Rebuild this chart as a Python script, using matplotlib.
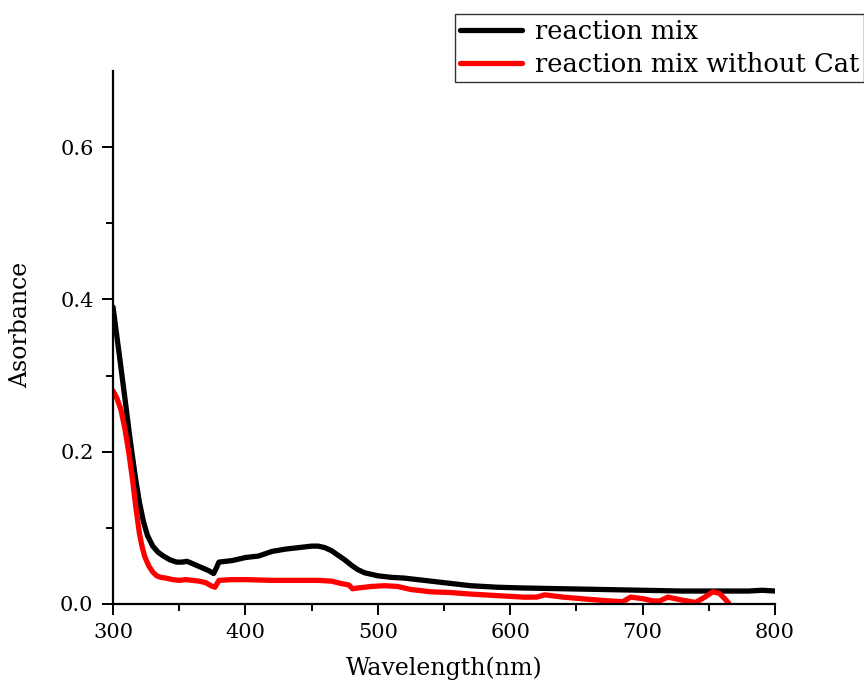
import numpy as np
import matplotlib.pyplot as plt
from matplotlib.ticker import FixedLocator

# UV-vis spectra
wl_mix = [300, 305, 309, 313, 317, 320, 323, 326, 330, 334, 338, 343, 348, 352, 356, 360,
          364, 368, 372, 376, 378, 380, 385, 390, 400, 410, 420, 430, 440, 450, 455, 460,
          465, 470, 475, 480, 485, 490, 500, 510, 520, 530, 540, 555, 570, 590, 610, 640,
          670, 700, 730, 760, 780, 790, 800]
abs_mix = [0.390, 0.324, 0.270, 0.215, 0.165, 0.133, 0.108, 0.090, 0.076, 0.068, 0.063, 0.058,
           0.055, 0.055, 0.056, 0.053, 0.050, 0.047, 0.044, 0.040, 0.047, 0.055, 0.056, 0.057,
           0.061, 0.063, 0.069, 0.072, 0.074, 0.076, 0.076, 0.074, 0.070, 0.064, 0.058, 0.051,
           0.045, 0.041, 0.037, 0.035, 0.034, 0.032, 0.030, 0.027, 0.024, 0.022, 0.021, 0.020,
           0.019, 0.018, 0.017, 0.017, 0.017, 0.018, 0.017]

wl_nocat = [300, 303, 306, 309, 312, 315, 317, 320, 322, 324, 327, 330, 333, 336, 340, 345,
            350, 355, 360, 365, 370, 374, 377, 380, 390, 400, 420, 440, 455, 465, 472, 478,
            481, 485, 495, 505, 515, 525, 540, 555, 570, 590, 610, 620, 626, 640, 660, 675,
            685, 691, 700, 708, 713, 719, 730, 740, 747, 753, 758, 762, 765]
abs_nocat = [0.280, 0.270, 0.255, 0.230, 0.198, 0.160, 0.130, 0.092, 0.075, 0.062, 0.050, 0.042,
             0.037, 0.035, 0.034, 0.032, 0.031, 0.032, 0.031, 0.030, 0.028, 0.024, 0.022, 0.031,
             0.032, 0.032, 0.031, 0.031, 0.031, 0.030, 0.027, 0.025, 0.020, 0.021, 0.023, 0.024,
             0.023, 0.019, 0.016, 0.015, 0.013, 0.011, 0.009, 0.009, 0.012, 0.009, 0.006, 0.004,
             0.003, 0.009, 0.007, 0.004, 0.004, 0.009, 0.005, 0.002, 0.009, 0.016, 0.014, 0.007,
             0.001]

y_ticks = [0.0, 0.2, 0.4, 0.6]
y_minor = [0.1, 0.3, 0.5]
x_ticks = [300, 400, 500, 600, 700, 800]
x_minor = [350, 450, 550, 650, 750]

plt.rcParams['font.family'] = ['DejaVu Serif']
plt.rcParams['font.size'] = 15

fig = plt.figure(figsize=(8.64, 6.81), dpi=100)
ax = fig.add_axes([0.1308, 0.1131, 0.897 - 0.1308, 0.8957 - 0.1131])

ax.plot(wl_mix, abs_mix, color='black', lw=3.8, solid_joinstyle='round',
        solid_capstyle='round', label='reaction mix')
ax.plot(wl_nocat, abs_nocat, color='#ff0000', lw=3.8, solid_joinstyle='round',
        solid_capstyle='round', label='reaction mix without Cat')

ax.set_xlim(300, 800)
ax.set_ylim(0, 0.7)
ax.set_xticks(x_ticks)
ax.set_yticks(y_ticks)
ax.xaxis.set_minor_locator(FixedLocator(x_minor))
ax.yaxis.set_minor_locator(FixedLocator(y_minor))
ax.set_yticklabels([f'{v:.1f}' for v in y_ticks])

for side in ['top', 'right']:
    ax.spines[side].set_visible(False)
for side in ['left', 'bottom']:
    ax.spines[side].set_linewidth(1.6)

ax.tick_params(which='major', direction='out', length=8, width=1.4, pad=6)
ax.tick_params(which='minor', direction='out', length=5, width=1.4)

ax.set_xlabel('Wavelength(nm)', fontsize=17, labelpad=10)
ax.set_ylabel('Asorbance', fontsize=17)
ax.yaxis.set_label_coords(-0.122, 0.523)

leg = fig.legend(loc='upper left', bbox_to_anchor=(0.5266, 0.9794), fontsize=18.5,
                 frameon=True, fancybox=False, handlelength=2.4, handletextpad=0.5,
                 borderpad=0.2, labelspacing=0.3, borderaxespad=0)
leg.get_frame().set_edgecolor('black')
leg.get_frame().set_linewidth(1.0)

fig.savefig('out.png', dpi=100)
